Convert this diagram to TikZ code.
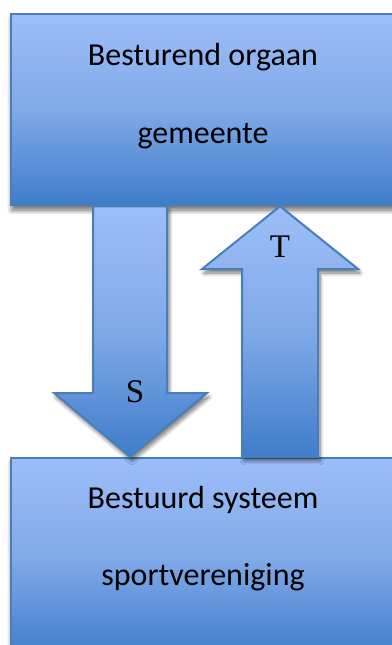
\documentclass[tikz,border=0pt]{standalone}
\usepackage{fontspec}
\setmainfont{Liberation Serif}
\newfontfamily\calibri{Carlito}
\usetikzlibrary{calc,shadows.blur}
\definecolor{licht}{HTML}{9CBEF8}
\definecolor{midden}{HTML}{80A9E8}
\definecolor{donker}{HTML}{3F7DC9}
\definecolor{rand}{HTML}{4A7EBB}
\tikzset{
  blok/.style={rectangle, draw=rand, line width=2.5pt, top color=licht, bottom color=donker, middle color=midden,
    blur shadow={shadow xshift=1pt, shadow yshift=-5pt, shadow blur radius=5pt, shadow blur steps=10, shadow opacity=60}, inner sep=0pt},
  pijl/.style={draw=rand, line width=2pt, line join=miter, top color=licht, bottom color=donker, middle color=midden,
    blur shadow={shadow xshift=2pt, shadow yshift=-4pt, shadow blur radius=4pt, shadow blur steps=8, shadow opacity=55}},
  tekst/.style={anchor=base, font=\calibri\fontsize{32}{38}\selectfont},
  letter/.style={font=\fontsize{33}{40}\selectfont}
}
\begin{document}
\begin{tikzpicture}[x=1pt,y=-1pt]
\useasboundingbox (0,0) rectangle (391,645);
% bestuurders en bestuurden
\node[blok, minimum width=385pt, minimum height=191pt] (boven) at (203.5,109.5){};
\node[blok, minimum width=385pt, minimum height=200pt] (onder) at (203.5,558){};
\node[tekst] (b1) at (203,65){Besturend orgaan};
\node[tekst] (b2) at (203,143){gemeente};
\node[tekst] (o1) at (203,508){Bestuurd systeem};
\node[tekst] (o2) at (203,585){sportvereniging};
% sturing omlaag
\draw[pijl] (93,0 |- boven.south) -- (167,0 |- boven.south) -- (167,393) -- (207,393)
  -- (130,0 |- onder.north) -- (54,393) -- (93,393) -- cycle;
% terugkoppeling omhoog
\draw[pijl] (242,0 |- onder.north) -- (242,269) -- (202,269) -- (280,0 |- boven.south)
  -- (358,269) -- (318,269) -- (318,0 |- onder.north) -- cycle;
\node[letter] (s) at (135,392){S};
\node[letter] (t) at (280,247){T};
\end{tikzpicture}
\end{document}
